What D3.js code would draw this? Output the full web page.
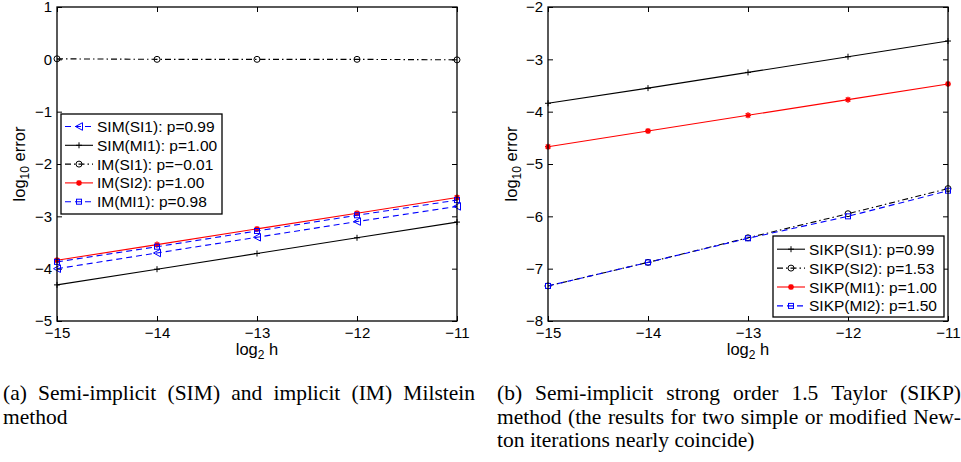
<!DOCTYPE html>
<html>
<head>
<meta charset="utf-8">
<script src="https://cdn.jsdelivr.net/npm/d3@7"></script>
<style>
  body { margin: 0; background: #fff; }
  svg { display: block; }
  .tick text { font-family: "Liberation Sans", Arial, sans-serif; font-size: 15px; fill: #000; }
  .lab { font-family: "Liberation Sans", Arial, sans-serif; font-size: 16.5px; }
  .leg { font-family: "Liberation Sans", Arial, sans-serif; font-size: 15.5px; }
  .cap { font-family: "Liberation Serif", "Times New Roman", serif; font-size: 21.5px; }
</style>
</head>
<body>
<svg width="961" height="462"></svg>
<script>
// x values (log2 h)
var logH = [-15, -14, -13, -12, -11];

// panel (a): log10 error
var simSI1 = [-4.00, -3.70, -3.40, -3.10, -2.81];
var simMI1 = [-4.31, -4.01, -3.71, -3.41, -3.11];
var imSI1  = [0.01, 0.00, 0.00, 0.00, -0.01];
var imSI2  = [-3.84, -3.54, -3.24, -2.94, -2.64];
var imMI1  = [-3.87, -3.58, -3.28, -2.98, -2.69];
var namesA = ["SIM(SI1): p=0.99", "SIM(MI1): p=1.00", "IM(SI1): p=\u22120.01", "IM(SI2): p=1.00", "IM(MI1): p=0.98"];

// panel (b): log10 error
var sikpSI1 = [-3.84, -3.55, -3.25, -2.95, -2.65];
var sikpSI2 = [-7.33, -6.88, -6.41, -5.95, -5.47];
var sikpMI1 = [-4.67, -4.37, -4.07, -3.77, -3.47];
var sikpMI2 = [-7.33, -6.88, -6.42, -6.00, -5.51];
var namesB = ["SIKP(SI1): p=0.99", "SIKP(SI2): p=1.53", "SIKP(MI1): p=1.00", "SIKP(MI2): p=1.50"];

var xTicks = [-15, -14, -13, -12, -11];
var yTicksA = [1, 0, -1, -2, -3, -4, -5];
var yTicksB = [-2, -3, -4, -5, -6, -7, -8];

var capA = ["(a) Semi-implicit (SIM) and implicit (IM) Milstein", "method"];
var capB = ["(b) Semi-implicit strong order 1.5 Taylor (SIKP)",
            "method (the results for two simple or modified New-",
            "ton iterations nearly coincide)"];

var svg = d3.select("svg");
var fmt = d3.format("d");

function marker(g, type, color) {
	if (type == "tri") {
		g.append("path").attr("d", "M-3.5,0L3.5,-3.8L3.5,3.8Z")
			.attr("fill", "none").attr("stroke", color).attr("stroke-width", 1);
	} else if (type == "plus") {
		g.append("path").attr("d", "M-3,0H3M0,-3V3")
			.attr("stroke", color).attr("stroke-width", 1);
	} else if (type == "circle") {
		g.append("circle").attr("r", 3)
			.attr("fill", "none").attr("stroke", color).attr("stroke-width", 1);
	} else if (type == "star") {
		g.append("path").attr("d", "M-3,0H3M0,-3V3M-2.2,-2.2L2.2,2.2M-2.2,2.2L2.2,-2.2")
			.attr("stroke", color).attr("stroke-width", 1.4);
	} else if (type == "square") {
		g.append("rect").attr("x", -2.5).attr("y", -2.5).attr("width", 5).attr("height", 5)
			.attr("fill", "none").attr("stroke", color).attr("stroke-width", 1);
	}
}

function panel(opt) {
	var x = d3.scaleLinear().domain([-15, -11]).range([opt.left, opt.right]);
	var y = d3.scaleLinear().domain(opt.ydom).range([321, 7]);
	var g = svg.append("g");

	g.append("g").attr("transform", "translate(0,321)")
		.call(d3.axisBottom(x).tickValues(xTicks).tickFormat(fmt).tickSizeInner(-5).tickSizeOuter(0).tickPadding(6));
	g.append("g").attr("transform", "translate(0,7)")
		.call(d3.axisTop(x).tickValues(xTicks).tickSizeInner(-5).tickSizeOuter(0).tickFormat(""));
	g.append("g").attr("transform", "translate(" + opt.left + ",0)")
		.call(d3.axisLeft(y).tickValues(opt.yticks).tickFormat(fmt).tickSizeInner(-5).tickSizeOuter(0).tickPadding(5));
	g.append("g").attr("transform", "translate(" + opt.right + ",0)")
		.call(d3.axisRight(y).tickValues(opt.yticks).tickSizeInner(-5).tickSizeOuter(0).tickFormat(""));
	g.selectAll(".domain").remove();
	g.selectAll(".tick line").attr("stroke", "#000").attr("stroke-width", 1);

	var line = d3.line().x(function (d, i) { return x(logH[i]); }).y(function (d) { return y(d); });

	opt.series.forEach(function (s) {
		g.append("path").datum(s.values)
			.attr("d", line)
			.attr("fill", "none")
			.attr("stroke", s.color)
			.attr("stroke-width", 1.1)
			.attr("stroke-dasharray", s.dash);
		s.values.forEach(function (v, i) {
			marker(g.append("g").attr("transform", "translate(" + x(logH[i]) + "," + y(v) + ")"), s.mark, s.color);
		});
	});

	g.append("rect")
		.attr("x", opt.left).attr("y", 7)
		.attr("width", opt.right - opt.left).attr("height", 314)
		.attr("fill", "none").attr("stroke", "#000").attr("stroke-width", 1.3);

	// axis labels
	var xl = g.append("text").attr("class", "lab")
		.attr("x", (opt.left + opt.right) / 2).attr("y", 355).attr("text-anchor", "middle");
	xl.append("tspan").text("log");
	xl.append("tspan").attr("dy", 4).attr("font-size", 12).text("2");
	xl.append("tspan").attr("dy", -4).text("\u00a0h");

	var yl = g.append("text").attr("class", "lab")
		.attr("transform", "translate(" + opt.ylabX + ",164) rotate(-90)")
		.attr("text-anchor", "middle");
	yl.append("tspan").text("log");
	yl.append("tspan").attr("dy", 4).attr("font-size", 12).text("10");
	yl.append("tspan").attr("dy", -4).text("\u00a0error");

	// legend
	var L = opt.legend;
	var lg = g.append("g");
	lg.append("rect").attr("x", L.x).attr("y", L.y).attr("width", L.w).attr("height", L.h)
		.attr("fill", "#fff").attr("stroke", "#000").attr("stroke-width", 1.3);
	opt.series.forEach(function (s, i) {
		var cy = L.y + L.first + i * L.row;
		lg.append("line").attr("x1", L.x + 4).attr("x2", L.x + 32).attr("y1", cy).attr("y2", cy)
			.attr("stroke", s.color).attr("stroke-width", 1.1).attr("stroke-dasharray", s.dash);
		marker(lg.append("g").attr("transform", "translate(" + (L.x + 18) + "," + cy + ")"), s.mark, s.color);
		lg.append("text").attr("class", "leg").attr("x", L.x + 36).attr("y", cy).attr("dy", "0.36em")
			.text(opt.names[i]);
	});
}

panel({
	left: 57, right: 457, ydom: [-5, 1], yticks: yTicksA, ylabX: 25, names: namesA,
	legend: { x: 61, y: 114, w: 161, h: 100, first: 12.5, row: 18.8 },
	series: [
		{ values: simSI1, color: "#0000ff", dash: "6,4", mark: "tri" },
		{ values: simMI1, color: "#000", dash: null, mark: "plus" },
		{ values: imSI1, color: "#000", dash: "6,3,1.5,3", mark: "circle" },
		{ values: imSI2, color: "#ff0000", dash: null, mark: "star" },
		{ values: imMI1, color: "#0000ff", dash: "6,4", mark: "square" }
	]
});

panel({
	left: 548, right: 948, ydom: [-8, -2], yticks: yTicksB, ylabX: 517, names: namesB,
	legend: { x: 773, y: 236, w: 171, h: 81, first: 13.2, row: 18.9 },
	series: [
		{ values: sikpSI1, color: "#000", dash: null, mark: "plus" },
		{ values: sikpSI2, color: "#000", dash: "6,3,1.5,3", mark: "circle" },
		{ values: sikpMI1, color: "#ff0000", dash: null, mark: "star" },
		{ values: sikpMI2, color: "#0000ff", dash: "6,4", mark: "square" }
	]
});

// justified captions
function caption(lines, x0, x1, y0) {
	lines.forEach(function (ln, li) {
		var words = ln.split(" ");
		var y = y0 + li * 23.5;
		var els = words.map(function (w) {
			return svg.append("text").attr("class", "cap").attr("y", y).text(w);
		});
		var widths = els.map(function (e) { return e.node().getComputedTextLength(); });
		var total = d3.sum(widths);
		var last = li == lines.length - 1;
		var gap = last ? 5.4 : (x1 - x0 - total) / (words.length - 1);
		var cx = x0;
		els.forEach(function (e, i) {
			e.attr("x", cx);
			cx += widths[i] + gap;
		});
	});
}
caption(capA, 3, 475, 400);
caption(capB, 497, 961, 400);
</script>
</body>
</html>
